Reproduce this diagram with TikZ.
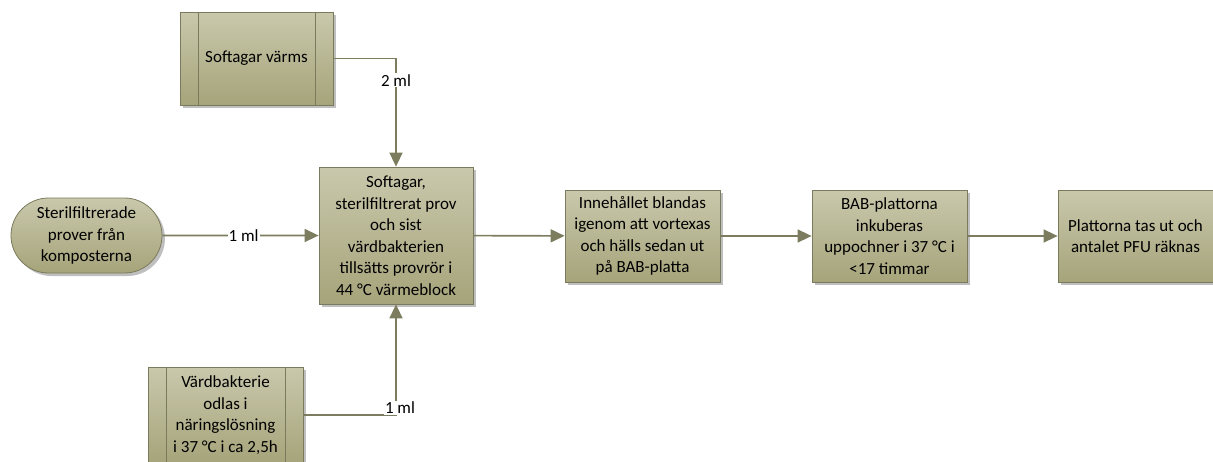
\documentclass[tikz,border=0pt]{standalone}
\usepackage{fontspec}
\setmainfont{Carlito}
\usetikzlibrary{arrows.meta,shadows,shapes.misc}

\definecolor{boxtop}{RGB}{201,200,172}
\definecolor{boxbot}{RGB}{166,164,122}
\definecolor{boxline}{RGB}{122,122,92}
\definecolor{flowline}{RGB}{124,124,94}

\tikzset{
    step box/.style={draw=boxline, line width=0.8pt, top color=boxtop, bottom color=boxbot,
        align=center, inner sep=1pt, font=\fontsize{17}{21.5}\selectfont,
        drop shadow={shadow xshift=3pt, shadow yshift=-3pt, fill=black!25, opacity=1}},
    sub box/.style={step box, path picture={
        \draw[boxline, line width=0.8pt]
            ([xshift=18pt]path picture bounding box.north west) -- ([xshift=18pt]path picture bounding box.south west)
            ([xshift=-18pt]path picture bounding box.north east) -- ([xshift=-18pt]path picture bounding box.south east);}},
    start box/.style={step box, rounded rectangle},
    flow/.style={draw=flowline, line width=1.6pt},
    flow arrow/.style={flow, -{Triangle[length=14pt,width=13pt]}},
    amount/.style={fill=white, inner sep=1pt, font=\fontsize{17}{21}\selectfont}
}

\begin{document}
\begin{tikzpicture}[x=1pt, y=-1pt]
    \useasboundingbox (0,0) rectangle (1213,461);

    % inputs
    \node[sub box, minimum width=153pt, minimum height=93pt] (heat) at (256.5,58.5) {Softagar värms};
    \node[start box, minimum width=153pt, minimum height=75pt] (samples) at (86.5,235.5)
        {Sterilfiltrerade\\prover från\\komposterna};
    \node[sub box, minimum width=155pt, minimum height=96pt] (host) at (225.5,415)
        {Värdbakterie\\odlas i\\näringslösning\\i 37 °C i ca 2,5h};

    % main chain
    \node[step box, minimum width=154pt, minimum height=137pt] (mix) at (396,235.5)
        {Softagar,\\sterilfiltrerat prov\\och sist\\värdbakterien\\tillsätts provrör i\\44 °C värmeblock};
    \node[step box, minimum width=155pt, minimum height=92pt] (vortex) at (642.5,236)
        {Innehållet blandas\\igenom att vortexas\\och hälls sedan ut\\på BAB-platta};
    \node[step box, minimum width=155pt, minimum height=92pt] (incubate) at (889.5,236)
        {BAB-plattorna\\inkuberas\\uppochner i 37 °C i\\<17 timmar};
    \node[step box, minimum width=155pt, minimum height=92pt] (count) at (1135.5,236)
        {Plattorna tas ut och\\antalet PFU räknas};

    % connectors
    \draw[flow arrow] (samples) -- node[amount, pos=0.52] {1 ml} (mix);
    \draw[flow arrow] (heat.east) -| node[amount, pos=0.6] {2 ml} (mix.north);
    \draw[flow arrow] (host.east) -| node[amount, pos=0.5, xshift=4pt, yshift=7pt] {1 ml} (mix.south);
    \draw[flow arrow] (mix) -- (vortex);
    \draw[flow arrow] (vortex) -- (incubate);
    \draw[flow arrow] (incubate) -- (count);
\end{tikzpicture}
\end{document}
